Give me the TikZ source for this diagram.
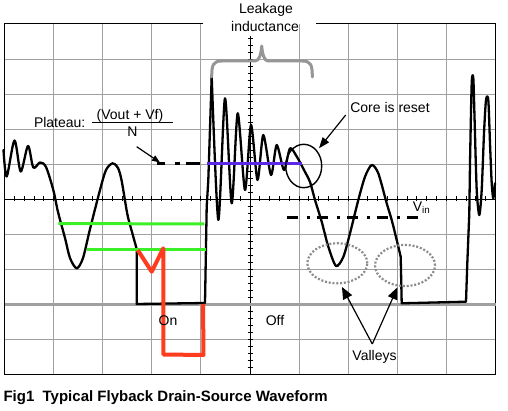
\documentclass[tikz,border=0pt]{standalone}
\usepackage{fontspec}
\setmainfont{Liberation Sans}
\usetikzlibrary{arrows.meta}
\definecolor{gridgray}{RGB}{160,160,160}
\definecolor{bracegray}{RGB}{150,150,150}
\definecolor{dotgray}{RGB}{140,140,140}
\definecolor{wred}{RGB}{255,60,30}
\definecolor{wgreen}{RGB}{60,240,40}
\definecolor{wpurple}{RGB}{90,40,230}
\begin{document}
\begin{tikzpicture}[x=1pt,y=-1pt,
  gridline/.style={gridgray,line width=0.9pt},
  axisline/.style={black,line width=0.9pt},
  frameline/.style={black,line width=1pt},
  groundline/.style={gridgray,line width=3pt},
  wave/.style={black,line width=2.3pt,line join=round,line cap=round},
  greenline/.style={wgreen,line width=3pt},
  redline/.style={wred,line width=4pt,line join=round},
  purpleline/.style={wpurple,line width=3pt},
  platdash/.style={black,line width=3pt,dash pattern=on 8.3pt off 10pt on 5pt off 6pt on 14pt off 20pt},
  vindash/.style={black,line width=3pt,dash pattern=on 11.7pt off 8.3pt on 3.3pt off 6.7pt},
  dotellipse/.style={dotgray,line width=2.2pt,dash pattern=on 2pt off 1.8pt},
  resetcircle/.style={black,line width=1.4pt},
  bracestyle/.style={bracegray,line width=3pt,line cap=round,line join=round},
  ptr/.style={black,line width=1.2pt},
  lbl/.style={inner sep=0pt,font=\fontsize{14}{16}\selectfont,anchor=base},
  captionfont/.style={inner sep=0pt,font=\fontsize{15}{18}\selectfont\bfseries,anchor=base west}
]
\useasboundingbox (0,0) rectangle (508,411);
\fill[white] (0,0) rectangle (508,411);

% grid
\foreach \gx in {53.6,102.7,151.8,200.9,299.1,348.2,397.3,446.4}
  \draw[gridline] (\gx,24) -- (\gx,374);
\foreach \gy in {59,94,129,164,234,269,339}
  \draw[gridline] (4.5,\gy) -- (495.5,\gy);

% axes with ticks
\draw[axisline] (4.5,199) -- (495.5,199);
\draw[axisline] (250,36) -- (250,374);
\foreach \k in {1,...,49}
  \draw[axisline] ({4.5+9.82*\k},196.5) -- ({4.5+9.82*\k},201.5);
\foreach \k in {2,...,49}
  \draw[axisline] (247.5,{24+7*\k}) -- (252.5,{24+7*\k});

% frame
\draw[frameline] (203,24) -- (4.5,24) -- (4.5,374) -- (495.5,374) -- (495.5,24) -- (316,24);

% ground line
\draw[groundline] (4.5,304) -- (495.5,304);

% waveform
\draw[wave] plot[smooth,tension=.5] coordinates {(3.5,150) (6.7,176.5) (14.5,140.5) (20.7,171.5) (28,146) (33.3,167.5) (40,162.5) (46,167) (53.3,190) (58,212) (65,238) (70,258) (76.7,268.3) (83,258) (90,229) (100,190) (106,170) (112.7,163.3) (118,168) (121.7,181) (127.3,214) (132,232) (136.7,249)};
\draw[wave] (136.7,249) -- (136.7,304) -- (205,303) -- (206.7,206.7) -- (208.3,180) -- (211.7,76.7);
\draw[wave] plot[smooth,tension=.45] coordinates {(211.7,76.7) (218.3,220) (225,98.3) (231.7,203.3) (237.7,113.3) (245,190) (251,125) (257.5,180) (263.3,135) (271,175) (276.7,145) (284,170) (290,148.3) (297,157) (304,170) (310,182) (315,200) (321.7,221.7) (328.3,246.7) (336,266) (343.3,257) (350,233.3) (358.3,200) (365,176.7) (371.7,165) (378.3,173.3) (386.7,203.3) (391.7,220) (396.7,240) (400.7,256.7)};
\draw[wave] (400.7,256.7) -- (401.7,303.3) -- (466,301.7) -- (467.3,263.3) -- (469.3,213.3) -- (470,163.3);
\draw[wave] plot[smooth,tension=.45] coordinates {(470,163.3) (471.7,83.3) (473.3,78.3) (474.5,116.7) (476.7,190) (479.3,215) (481.7,190) (484,133.3) (486,100) (488.3,100) (490,143.3) (491.7,183.3) (493.3,198.3) (495,183.3)};

% coloured lines
\draw[greenline] (58.3,223.5) -- (204.3,224);
\draw[greenline] (86.7,249.3) -- (206,249.3);
\draw[redline] (137.7,250) -- (151.7,271.7) -- (163.3,248.3) -- (163.3,354.5) -- (203.5,355) -- (203,304);
\draw[purpleline] (206.7,163.3) -- (301.7,163.3);

% dash-dot levels
\draw[platdash] (156.7,163.3) -- (205,163.3);
\draw[vindash] (286.7,217.3) -- (425,217.3);

% core reset circle and valley ellipses
\draw[resetcircle] (303.7,166) ellipse [x radius=18pt, y radius=21.7pt];
\draw[dotellipse] (337.3,263.3) ellipse [x radius=30pt, y radius=20pt];
\draw[dotellipse] (405,265.5) ellipse [x radius=30pt, y radius=20.5pt];

% leakage brace
\draw[bracestyle] (211.7,77) .. controls (211.7,65) and (213,61) .. (222,61) -- (255,61) .. controls (259,61) and (261,55) .. (261.7,46) .. controls (262.5,55) and (264.5,61) .. (268,61) -- (302,61) .. controls (311,61) and (312.3,65) .. (312.3,77);

% labels
\node[lbl] (leak1) at (266,13.3) {Leakage};
\node[lbl] (leak2) at (265,31.7) {inductance};
\node[lbl] (core) at (390,113) {Core is reset};
\node[lbl] (plat) at (59.7,128) {Plateau:};
\node[lbl] (num) at (130,119.3) {(Vout + Vf)};
\draw[black,line width=0.9pt] (91.7,122.3) -- (173.3,122.3);
\node[lbl] (den) at (132.5,137) {N};
\node[lbl] (on) at (168,325) {On};
\node[lbl] (off) at (275,325) {Off};
\node[lbl] (vin) at (421.5,211.7) {V\textsubscript{in}};
\node[lbl] (valleys) at (374.5,360) {Valleys};
\node[captionfont] (cap) at (3.3,401.7) {Fig1\ \ Typical Flyback Drain-Source Waveform};

% pointers
\coordinate (platfrom) at (136.7,146.7);
\coordinate (platto) at (160,162.5);
\coordinate (corefrom) at (345.7,115);
\coordinate (coreto) at (319,148.3);
\coordinate (valfrom) at (372.3,344);
\coordinate (valto1) at (342,287);
\coordinate (valto2) at (397.5,287.3);
\draw[ptr,-{Triangle[length=8pt,width=6pt]}] (platfrom) -- (platto);
\draw[ptr,-{Triangle[length=11pt,width=8pt]}] (corefrom) -- (coreto);
\draw[ptr,-{Triangle[length=12pt,width=10pt]}] (valfrom) -- (valto1);
\draw[ptr,-{Triangle[length=12pt,width=10pt]}] (valfrom) -- (valto2);
\end{tikzpicture}
\end{document}
